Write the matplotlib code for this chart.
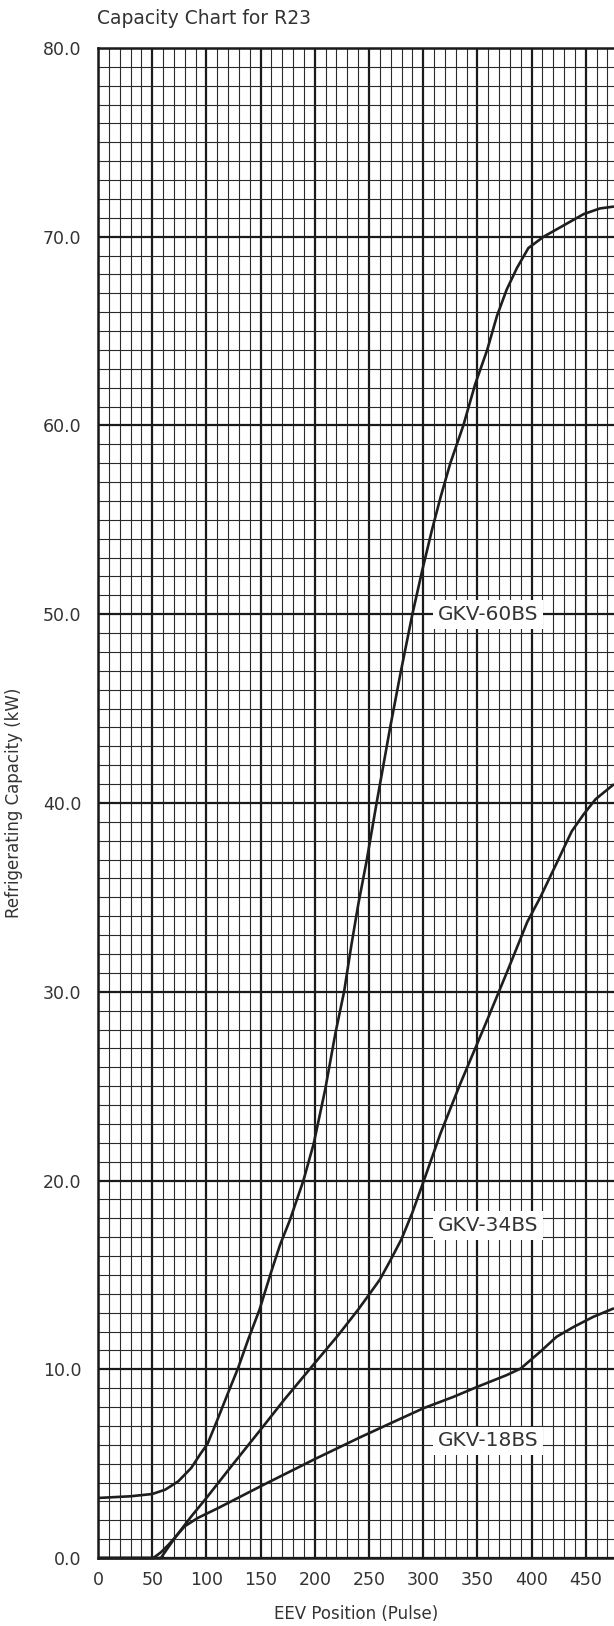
import numpy as np
import matplotlib
matplotlib.use('Agg')
import matplotlib.pyplot as plt
from matplotlib.ticker import MultipleLocator, FormatStrFormatter

plt.rcParams['font.family'] = ['DejaVu Sans']

# GKV-60BS
p60 = [0, 30, 50, 62, 74, 86, 95, 101, 109, 120, 129, 138.5, 149, 160, 168, 177,
       189.5, 199, 209.5, 219, 227, 234, 240, 248, 257, 269.5, 279, 290, 299, 308,
       316, 325, 337, 348, 359, 368, 377, 386.5, 397, 411, 429.5, 448, 463, 476]
y60 = [3.18, 3.27, 3.39, 3.62, 4.06, 4.77, 5.56, 6.04, 7.16, 8.75, 10.03, 11.57, 13.16,
       15.2, 16.6, 17.9, 20.0, 21.96, 24.8, 27.8, 30.0, 32.56, 34.6, 37.0, 40.0, 44.0,
       46.86, 50.0, 52.3, 54.45, 56.2, 58.0, 60.0, 62.2, 64.0, 65.8, 67.2, 68.35, 69.4,
       70.0, 70.6, 71.2, 71.5, 71.6]

# GKV-34BS
p34 = [0, 58, 64, 72, 86, 100, 123, 150, 172, 200, 221.5, 240, 250, 260, 270, 280,
       290, 300, 316, 334, 359, 377, 396, 408, 423, 437, 448, 459, 476]
y34 = [0, 0, 0.5, 1.15, 2.2, 3.18, 4.86, 6.8, 8.4, 10.33, 11.8, 13.16, 13.95, 14.75,
       15.8, 16.9, 18.3, 19.9, 22.5, 25.1, 28.5, 31.0, 33.7, 35.0, 36.8, 38.5, 39.4,
       40.2, 41.0]

# GKV-18BS
p18 = [0, 51, 58, 65, 72, 80, 92, 111, 150, 200, 242, 273, 300, 328, 350, 377, 390,
       408, 423, 439, 457, 476]
y18 = [0, 0, 0.3, 0.7, 1.15, 1.68, 2.12, 2.65, 3.8, 5.24, 6.4, 7.22, 7.93, 8.54, 9.07,
       9.69, 10.04, 10.93, 11.72, 12.25, 12.78, 13.23]

labels = ['GKV-60BS', 'GKV-34BS', 'GKV-18BS']
label_x = [360, 360, 360]
label_y = [50.0, 17.6, 6.2]

txt = '#333333'

fig = plt.figure(figsize=(6.14, 16.26), dpi=100)
ax = fig.add_axes([98/614, 1 - 1558/1626, 516/614, 1510/1626])

ax.set_xlim(0, 476)
ax.set_ylim(0, 80)
ax.xaxis.set_major_locator(MultipleLocator(50))
ax.xaxis.set_minor_locator(MultipleLocator(10))
ax.yaxis.set_major_locator(MultipleLocator(10))
ax.yaxis.set_minor_locator(MultipleLocator(1))
ax.yaxis.set_major_formatter(FormatStrFormatter('%.1f'))

ax.grid(which='minor', color='#2a2a2a', linewidth=0.8)
ax.grid(which='major', color='#1a1a1a', linewidth=1.6)
ax.set_axisbelow(True)

for s in ['left', 'bottom', 'top']:
    ax.spines[s].set_linewidth(1.8)
    ax.spines[s].set_color('#1a1a1a')
ax.spines['right'].set_visible(False)

ax.tick_params(which='both', length=0)
ax.tick_params(axis='y', pad=12, labelsize=12.5, labelcolor=txt)
ax.tick_params(axis='x', pad=9, labelsize=12.5, labelcolor=txt)

for p, v in [(p60, y60), (p34, y34), (p18, y18)]:
    ax.plot(p, v, color='#1e1e1e', linewidth=1.9, solid_capstyle='butt', zorder=3, clip_on=False)

for name, lx, ly in zip(labels, label_x, label_y):
    ax.text(lx, ly, name, ha='center', va='center', fontsize=14.5, color=txt, zorder=4,
            bbox=dict(facecolor='white', edgecolor='none', pad=3.5))

ax.set_xlabel('EEV Position (Pulse)', fontsize=12, color=txt, labelpad=12)
ax.set_ylabel('Refrigerating Capacity (kW)', fontsize=12, color=txt)
ax.yaxis.set_label_coords(-0.145, 0.5)

fig.text(97/614, 1 - 18/1626, 'Capacity Chart for R23', fontsize=13.5, color=txt,
         ha='left', va='center')

fig.savefig('out.png', dpi=100)
